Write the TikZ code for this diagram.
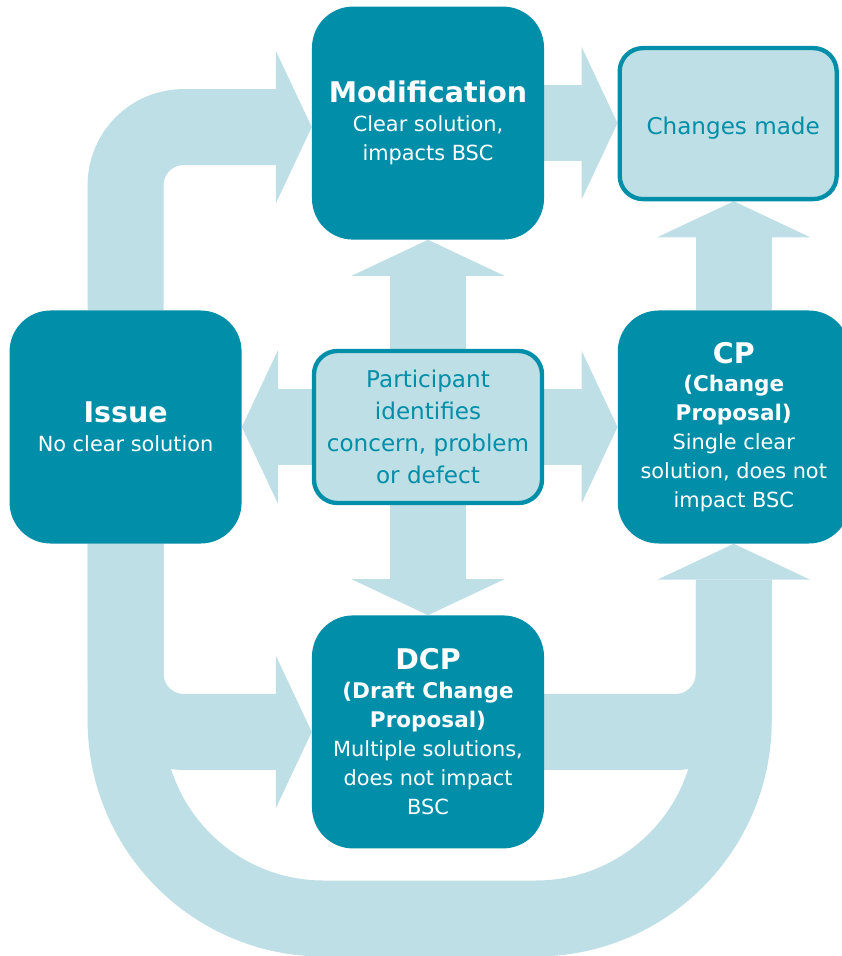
\documentclass[tikz,border=0pt]{standalone}
\usepackage{fontspec}
\setmainfont{DejaVu Sans}
\usetikzlibrary{positioning, arrows.meta}

\definecolor{bscteal}{RGB}{0,142,168}
\definecolor{bscpale}{RGB}{190,223,229}

\newcommand\boxtext{\fontsize{17.8}{24.7}\selectfont}
\newcommand\boxtitle{\fontsize{24.3}{24.7}\selectfont\bfseries}
\newcommand\boxsub{\fontsize{18.4}{24.7}\selectfont\bfseries}
\newcommand\notetext{\fontsize{19.7}{27.3}\selectfont}

\pgfdeclarelayer{background}
\pgfsetlayers{background,main}

\tikzset{
	box/.style={rounded corners=1.23cm, fill=bscteal, text=white, inner sep=0pt,
		minimum width=6.96cm, minimum height=6.99cm, align=center, font=\boxtext},
	note/.style={rounded corners=0.7cm, fill=bscpale, draw=bscteal, line width=0.13cm,
		text=bscteal, inner sep=0pt, align=center, font=\notetext},
	flow/.style={draw=bscpale, line width=2.28cm},
	flowtip/.style={-{Triangle[length=1.08cm, width=4.59cm, line width=0pt]}},
	flowtips/.style={{Triangle[length=1.08cm, width=4.59cm, line width=0pt]}-{Triangle[length=1.08cm, width=4.59cm, line width=0pt]}}
}

\begin{document}
\begin{tikzpicture}[x=0.03cm, y=-0.03cm]
	\useasboundingbox (0,0) rectangle (841,956);

	% Add the boxes
	\node[note, minimum width=6.84cm, minimum height=4.56cm] (part) at (428,427)
		{Participant\\identifies\\concern, problem\\or defect};
	\node[box, left=2.1cm of part]  (issue) {{\boxtitle Issue}\\No clear solution};
	\node[box, right=2.2cm of part] (cp)
		{{\boxtitle CP}\\{\boxsub (Change}\\{\boxsub Proposal)}\\Single clear\\solution, does not\\impact BSC};
	\node[box, above=3.27cm of part] (mod) {{\boxtitle Modification}\\Clear solution,\\impacts BSC};
	\node[box, below=3.3cm of part]  (dcp)
		{{\boxtitle DCP}\\{\boxsub (Draft Change}\\{\boxsub Proposal)}\\Multiple solutions,\\does not impact\\BSC};
	\node[note, minimum width=6.51cm, minimum height=4.53cm, above=3.27cm of cp.north west,
		anchor=south west] (made)
		{\hspace*{0.3cm}\raisebox{-0.15cm}[\height][\depth]{Changes made}};

	\coordinate (bot) at (0,918.5);

	% Connect the boxes with block arrows
	\begin{pgfonlayer}{background}
		\draw[flow, flowtip, rounded corners=5.94cm]
			(issue.south) -- (issue.south |- bot) -- (cp.south |- bot) -- (cp.south);
		\draw[flow, flowtip, rounded corners=1.74cm] (issue.south) |- (dcp.west);
		\draw[flow, rounded corners=1.74cm] (dcp.east) -| ([yshift=-1.2cm]cp.south);
		\draw[flow, flowtip, rounded corners=1.74cm] (issue.north) |- ([yshift=-0.12cm]mod.west);
		\draw[flow, flowtip] (mod.east) -- (mod.east -| made.west);
		\draw[flow, flowtip] (cp.north) -- (cp.north |- made.south);
		\draw[flow, flowtips] (mod.south) -- (dcp.north);
		\draw[flow, flowtips] (issue.east) -- (cp.west);
	\end{pgfonlayer}
\end{tikzpicture}
\end{document}
